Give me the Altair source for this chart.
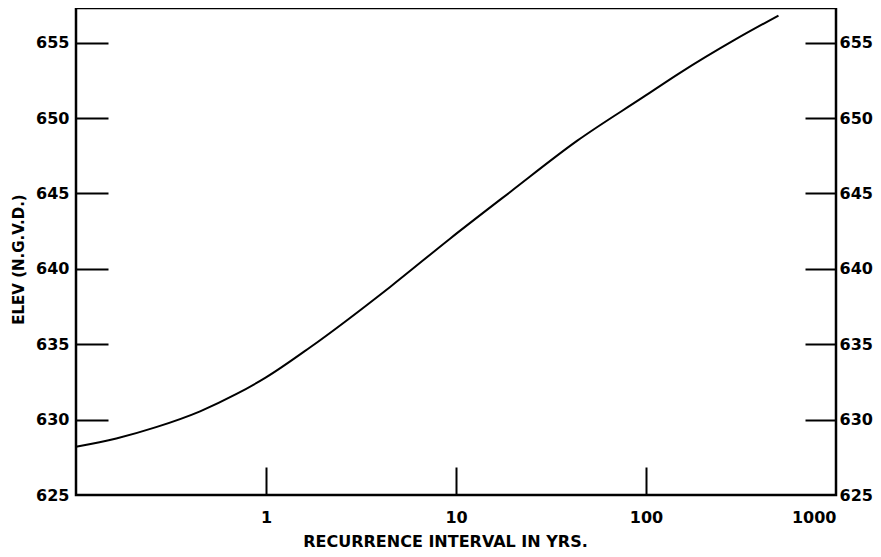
import altair as alt
import pandas as pd

# Recurrence interval (years) and elevation (ft, N.G.V.D.)
interval = [0.1, 0.163, 0.264, 0.45, 0.70, 1.0, 1.71, 4.5, 9.3, 19.3, 43.5, 97, 151, 294, 498]
elev = [628.2, 628.75, 629.5, 630.55, 631.7, 632.8, 634.8, 638.8, 642.0, 645.1, 648.5,
        651.4, 653.0, 655.2, 656.8]

x_label_values = [1, 10, 100, 1000]
x_tick_values = [1, 10, 100]
y_label_values = [625, 630, 635, 640, 645, 650, 655]
y_tick_values = [630, 635, 640, 645, 650, 655]

df = pd.DataFrame({"interval": interval, "elev": elev})

FONT = "DejaVu Sans"
xscale = alt.Scale(type="log", domain=[0.1, 1000], nice=False)
yscale = alt.Scale(domain=[625, 657.3], nice=False, zero=False)

lbl = dict(labelFont=FONT, labelFontWeight="bold", labelFontSize=16, labelColor="black",
           grid=False, domain=False)

x_labels = alt.Axis(values=x_label_values, ticks=False, labelPadding=14,
                    title="RECURRENCE  INTERVAL IN YRS.", titleFont=FONT, titleFontSize=16,
                    titleFontWeight="bold", titleColor="black", titlePadding=8,
                    titleX=369, labelExpr="format(datum.value, 'd')",
                    **lbl)
y_left_labels = alt.Axis(orient="left", values=y_label_values, ticks=False, labelPadding=7,
                         title="ELEV (N.G.V.D.)", titleFont=FONT, titleFontSize=15,
                         titleFontWeight="bold", titleColor="black", titlePadding=9,
                         titleY=251, **lbl)
y_right_labels = alt.Axis(orient="right", values=y_label_values, ticks=False, labelPadding=3,
                          title=None, **lbl)

tick_common = dict(labels=False, domain=False, grid=False, title=None, ticks=True,
                   tickColor="black", tickWidth=2)
x_ticks = alt.Axis(orient="bottom", values=x_tick_values, tickSize=28, offset=-28, **tick_common)
y_left_ticks = alt.Axis(orient="left", values=y_tick_values, tickSize=32, offset=-32, **tick_common)
y_right_ticks = alt.Axis(orient="right", values=y_tick_values, tickSize=31, offset=-31, **tick_common)

base = alt.Chart(df)

layer1 = base.mark_line(color="black", strokeWidth=2, interpolate="monotone").encode(
    x=alt.X("interval:Q", scale=xscale, axis=x_labels),
    y=alt.Y("elev:Q", scale=yscale, axis=y_left_labels),
)
layer2 = base.mark_line(opacity=0).encode(
    x=alt.X("interval:Q", scale=xscale, axis=x_ticks),
    y=alt.Y("elev:Q", scale=yscale, axis=y_left_ticks),
)
layer3 = base.mark_line(opacity=0).encode(
    x=alt.X("interval:Q", scale=xscale, axis=None),
    y=alt.Y("elev:Q", scale=yscale, axis=y_right_labels),
)
layer4 = base.mark_line(opacity=0).encode(
    x=alt.X("interval:Q", scale=xscale, axis=None),
    y=alt.Y("elev:Q", scale=yscale, axis=y_right_ticks),
)

chart = alt.layer(layer1, layer2, layer3, layer4).resolve_axis(
    x="independent", y="independent"
).properties(
    width=760, height=487,
    padding={"left": 68, "top": 0, "right": 37, "bottom": 56},
    autosize=alt.AutoSizeParams(type="none"),
    background="white",
).configure_view(stroke="black", strokeWidth=2.5)

chart.save("out.html", embed_options={"renderer": "svg", "actions": False})
